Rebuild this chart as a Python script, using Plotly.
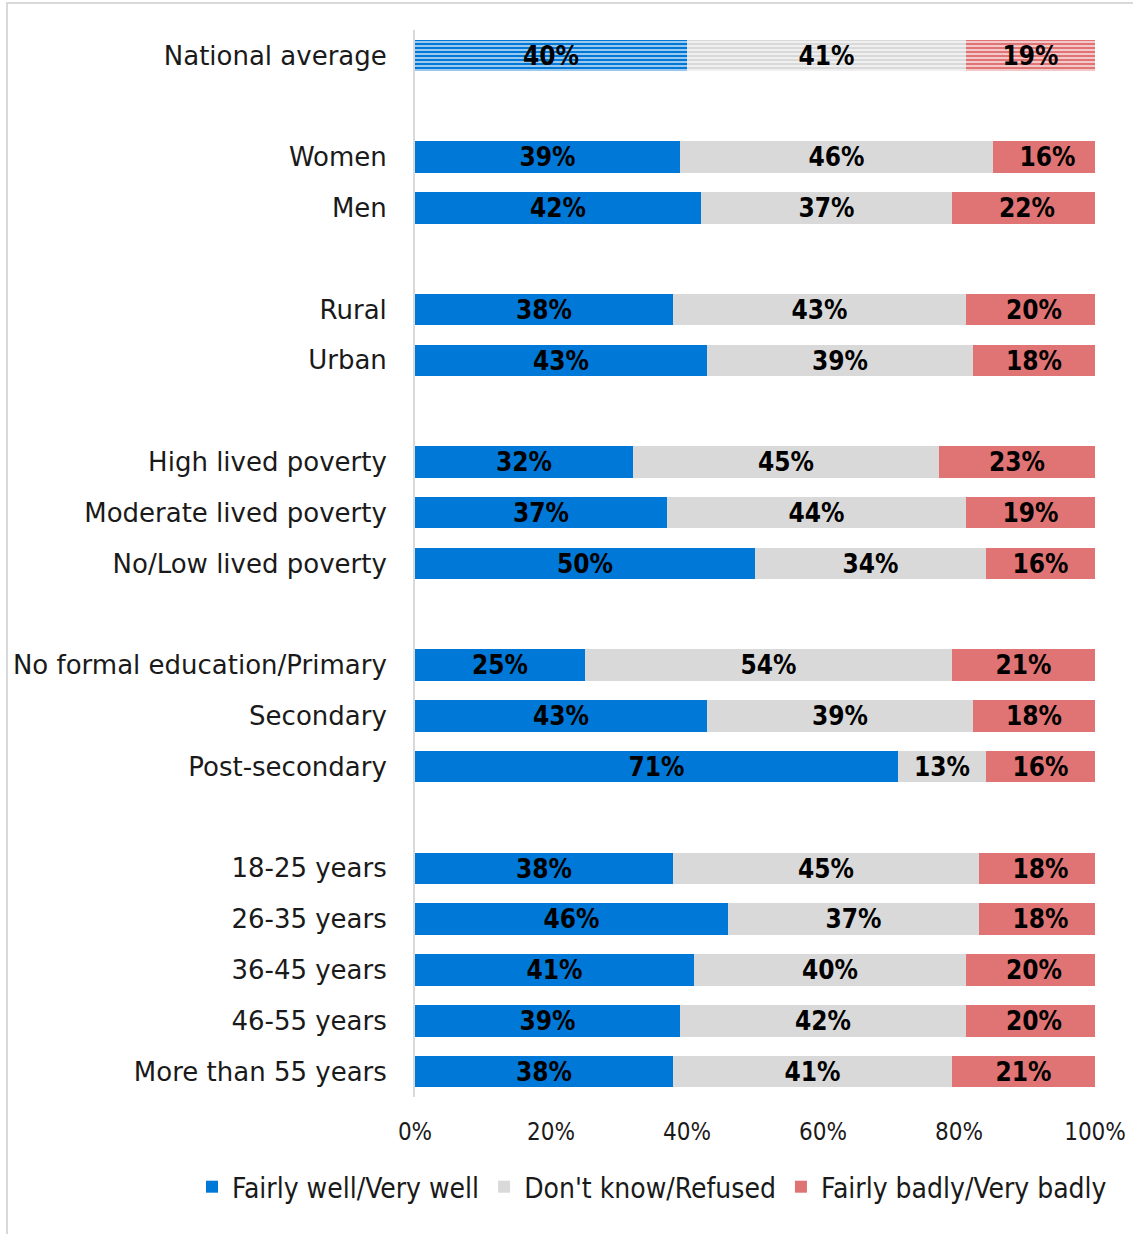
import plotly.graph_objects as go

# Survey groups (each inner list is one block of rows, blocks separated by a gap)
groups = [
    ["National average"],
    ["Women", "Men"],
    ["Rural", "Urban"],
    ["High lived poverty", "Moderate lived poverty", "No/Low lived poverty"],
    ["No formal education/Primary", "Secondary", "Post-secondary"],
    ["18-25 years", "26-35 years", "36-45 years", "46-55 years", "More than 55 years"],
]

well = [40, 39, 42, 38, 43, 32, 37, 50, 25, 43, 71, 38, 46, 41, 39, 38]
dont_know = [41, 46, 37, 43, 39, 45, 44, 34, 54, 39, 13, 45, 37, 40, 42, 41]
badly = [19, 16, 22, 20, 18, 23, 19, 16, 21, 18, 16, 18, 18, 20, 20, 21]

series_names = ["Fairly well/Very well", "Don't know/Refused", "Fairly badly/Very badly"]
x_ticks = [0, 20, 40, 60, 80, 100]
x_tick_text = ["0%", "20%", "40%", "60%", "80%", "100%"]

colors = ["#0078D7", "#D9D9D9", "#E07474"]

# Row positions: one empty slot between blocks
labels, pos = [], []
slot = 0
for g in groups:
    for name in g:
        labels.append(name)
        pos.append(slot)
        slot += 1
    slot += 1
last_slot = pos[-1]

LABEL_FONT = "Liberation Sans Narrow, DejaVu Sans Condensed, Arial Narrow, sans-serif"
CAT_FONT = "DejaVu Sans, sans-serif"

fig = go.Figure()
values = [well, dont_know, badly]

# National average row drawn with horizontal stripes
for name, vals, col in zip(series_names, values, colors):
    fig.add_trace(go.Bar(
        y=[pos[0]], x=[vals[0]], orientation="h", name=name,
        showlegend=False, width=0.62,
        marker=dict(color=col, line=dict(width=0),
                    pattern=dict(shape="-", fgcolor=col, bgcolor="white",
                                 fgopacity=1, size=4, solidity=0.7)),
        text=[f"{vals[0]}%"], textposition="inside", insidetextanchor="middle",
        textangle=0, constraintext="none",
        insidetextfont=dict(color="black", size=26, family=LABEL_FONT, weight="bold"),
        hoverinfo="skip",
    ))

# Remaining rows
for name, vals, col in zip(series_names, values, colors):
    fig.add_trace(go.Bar(
        y=pos[1:], x=vals[1:], orientation="h", name=name,
        width=0.62,
        marker=dict(color=col, line=dict(width=0)),
        text=[f"{v}%" for v in vals[1:]], textposition="inside",
        insidetextanchor="middle", textangle=0, constraintext="none",
        insidetextfont=dict(color="black", size=26, family=LABEL_FONT, weight="bold"),
        hoverinfo="skip",
    ))

W, H = 1133, 1234
ML, MR, MT, MB = 415, 38, 30, 137
plot_w = W - ML - MR
plot_h = H - MT - MB

fig.update_layout(
    width=W, height=H,
    margin=dict(l=ML, r=MR, t=MT, b=MB, autoexpand=False),
    barmode="stack",
    plot_bgcolor="white", paper_bgcolor="white",
    bargap=0,
    legend=dict(
        orientation="h", x=(192 - ML) / plot_w, xanchor="left",
        y=(H - MB - 1187) / plot_h, yanchor="middle",
        traceorder="normal",
        font=dict(size=28, family=LABEL_FONT, color="#1a1a1a"),
        itemclick=False, tracegroupgap=0, itemwidth=30,
    ),
    xaxis=dict(
        range=[0, 100], tickvals=x_ticks, ticktext=x_tick_text,
        showgrid=False, zeroline=False, showline=False,
        ticks="", ticklabelstandoff=18,
        tickfont=dict(size=24, family=LABEL_FONT, color="#1a1a1a"),
        fixedrange=True,
    ),
    yaxis=dict(
        range=[last_slot + 0.5, -0.5], tickvals=pos, ticktext=labels,
        showgrid=False, zeroline=False, showline=True,
        linecolor="#D9D9D9", linewidth=2, ticks="",
        ticklabelstandoff=21,
        tickfont=dict(size=26, family=CAT_FONT, color="#1a1a1a"),
        fixedrange=True,
    ),
    shapes=[dict(
        type="rect", xref="paper", yref="paper",
        x0=(7 - ML) / plot_w, x1=1.2,
        y0=-0.3, y1=1 + (MT - 3) / plot_h,
        line=dict(color="#D9D9D9", width=2), fillcolor="rgba(0,0,0,0)",
        layer="below",
    )],
)

fig.write_html("out.html")
